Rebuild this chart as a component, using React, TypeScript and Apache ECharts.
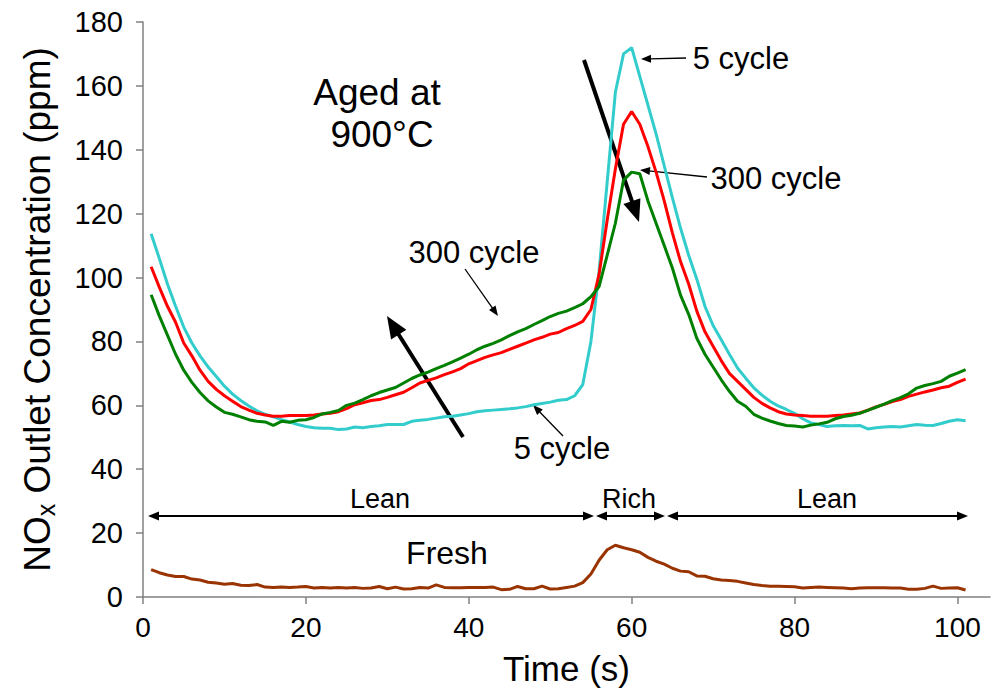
import React, { useEffect, useRef } from "react";
import * as echarts from "echarts";

const time = [1,2,3,4,5,6,7,8,9,10,11,12,13,14,15,16,17,18,19,20,21,22,23,24,25,26,27,28,29,30,31,32,33,34,35,36,37,38,39,40,41,42,43,44,45,46,47,48,49,50,51,52,53,54,55,56,57,58,59,60,61,62,63,64,65,66,67,68,69,70,71,72,73,74,75,76,77,78,79,80,81,82,83,84,85,86,87,88,89,90,91,92,93,94,95,96,97,98,99,100,101];

const cycle5 = [113.7,106,98,91,84.5,79.5,75.5,72,69,66,63.5,61.5,59.8,58.3,57.2,56.4,55.5,54.8,54,53.4,53,52.8,52.8,52.4,52.6,53.2,53,53.4,53.6,54,54,54,55,55.3,55.6,56,56.4,56.6,57,57.4,58,58.3,58.5,58.7,58.9,59.2,59.6,60.2,60.6,61,61.6,61.8,63,66.5,80,102,130,158,170,172,163,154,145,135,125,115.5,107,99.5,91,85,80.5,76,71.7,68.5,65.5,63.2,61.3,59.8,58.7,57.5,55.8,54.5,54,53.4,53.6,53.7,53.6,53.7,52.6,53,53.2,53.4,53.2,53.6,54,53.8,53.7,54.3,55,55.5,55.2];

const cycleMid = [103.4,97,91,86,79.5,75.5,71,67.5,65,63,61.3,59.6,58.5,57.5,57,56.6,56.6,56.8,56.8,56.8,57,57.3,57.5,58,59,60.2,60.8,61.5,61.8,62.5,63.3,64.1,65.5,67,67.8,68.6,69.6,70.5,71.5,73,74,75,75.8,76.5,77.5,78.5,79.5,80.5,81.3,82.3,82.8,84,85,86.3,90,101,118,134,148,152,148,141,133,124,114,105,98,89.5,83,78.5,74,70,67.5,65,62.5,60.6,59.2,58,57.3,57,56.8,56.6,56.6,56.6,56.8,57,57.3,57.6,58.5,59.5,60.3,61.2,61.8,62.8,63.5,64.2,64.8,65.5,66,67.2,68.2];

const cycle300 = [94.6,88,82,76,71,67.2,64,61.4,59.5,57.8,57.2,56.4,55.5,55,54.8,53.7,55,54.7,55.3,55.5,56.2,57.3,57.8,58.4,60,60.7,61.8,63,64,64.8,65.6,67,68.4,69.5,70.4,71.5,72.5,73.6,74.8,76,77.4,78.5,79.4,80.5,81.8,83,84,85.3,86.5,87.8,88.8,89.5,90.6,91.8,94,97.2,107,117,130.5,133,132.5,124,117,110,103,94.5,88.5,81,76,72,68,64.4,61.3,59.7,57.2,56,55.1,54.3,53.7,53.5,53.2,53.8,54.2,54.7,55.8,56.5,56.9,57.5,58.4,59.4,60.4,61.5,62.4,63.6,65.4,66.2,66.8,67.5,69.1,70.1,71.2];

const fresh = [8.6,7.6,6.9,6.4,6.4,5.6,5.3,4.6,4.4,4,4.2,3.7,3.6,3.9,3.1,3,3.1,3,3.1,3.3,2.8,3,2.8,3,2.8,3,2.7,2.8,3.3,2.6,3.1,2.5,2.6,3,2.8,3.8,3,2.9,2.9,3,3,3,3.1,2.3,2.4,3.3,2.6,2.6,3.4,2.5,2.6,3,3.4,4.5,7.2,11.5,14.8,16.2,15.4,14.8,14,12.4,11.2,10.3,9,8.1,7.9,6.6,6.5,5.7,5.3,5.2,4.9,4.4,3.9,3.6,3.4,3.4,3.3,3.2,2.8,3,3.1,3,2.9,2.8,2.6,2.8,2.9,2.9,2.9,2.8,2.8,2.4,2.4,2.7,3.4,2.7,2.8,2.9,2.2];

const xTicks = [0, 20, 40, 60, 80, 100];

const FONT = "Liberation Sans, Arial, sans-serif";

function arrow(x1: number, y1: number, x2: number, y2: number, lw: number, hl: number, hw: number, both = false) {
  const dx = x2 - x1, dy = y2 - y1;
  const L = Math.hypot(dx, dy);
  const ux = dx / L, uy = dy / L;
  const px = -uy, py = ux;
  const head = (tx: number, ty: number, dirx: number, diry: number) => {
    const bx = tx - dirx * hl, by = ty - diry * hl;
    return {
      type: "polygon",
      shape: { points: [[tx, ty], [bx + px * hw / 2, by + py * hw / 2], [bx - px * hw / 2, by - py * hw / 2]] },
      style: { fill: "#000" },
    };
  };
  const sx = both ? x1 + ux * (hl - 1) : x1;
  const sy = both ? y1 + uy * (hl - 1) : y1;
  const els: any[] = [
    { type: "line", shape: { x1: sx, y1: sy, x2: x2 - ux * (hl - 1), y2: y2 - uy * (hl - 1) }, style: { stroke: "#000", lineWidth: lw } },
    head(x2, y2, ux, uy),
  ];
  if (both) els.push(head(x1, y1, -ux, -uy));
  return els;
}

function txt(text: string, x: number, y: number, size: number) {
  return {
    type: "text",
    style: { text, x, y, fontSize: size, fontFamily: FONT, fill: "#000", align: "center", verticalAlign: "middle" },
  };
}

export default function App() {
  const ref = useRef<HTMLDivElement>(null);
  useEffect(() => {
    if (!ref.current) return;
    const chart = echarts.init(ref.current, null, { renderer: "svg" });
    const mk = (arr: number[]) => arr.map((v, i) => [time[i], v]);
    const axisColor = "#808080";
    chart.setOption({
      animation: false,
      backgroundColor: "#fff",
      grid: { left: 143, right: 1, top: 22, bottom: 93, containLabel: false },
      xAxis: {
        type: "value",
        min: 0,
        max: 104,
        interval: 20,
        name: "Time (s)",
        nameLocation: "middle",
        nameGap: 54,
        nameTextStyle: { fontSize: 35, fontFamily: FONT, color: "#000" },
        axisLine: { show: true, lineStyle: { color: axisColor, width: 1.5 } },
        axisTick: { show: true, length: 7, lineStyle: { color: axisColor, width: 1.5 }, customValues: xTicks },
        axisLabel: { fontSize: 28, fontFamily: FONT, color: "#000", margin: 16, customValues: xTicks },
        splitLine: { show: false },
      },
      yAxis: {
        type: "value",
        min: 0,
        max: 180,
        interval: 20,
        name: "{a|NO}{s|x}{a| Outlet Concentration (ppm)}",
        nameLocation: "middle",
        nameGap: 85,
        nameTextStyle: {
          fontFamily: FONT,
          color: "#000",
          rich: {
            a: { fontSize: 37, fontFamily: FONT, color: "#000", lineHeight: 42 },
            s: { fontSize: 25, fontFamily: FONT, color: "#000", lineHeight: 42, padding: [15, 0, 0, 0], verticalAlign: "bottom" },
          },
        },
        axisLine: { show: true, lineStyle: { color: axisColor, width: 1.5 } },
        axisTick: { show: true, length: 7, lineStyle: { color: axisColor, width: 1.5 } },
        axisLabel: { fontSize: 29, fontFamily: FONT, color: "#000", margin: 20 },
        splitLine: { show: false },
      },
      series: [
        { type: "line", name: "Fresh", data: mk(fresh), symbol: "none", lineStyle: { color: "#993300", width: 3 } },
        { type: "line", name: "5 cycle", data: mk(cycle5), symbol: "none", lineStyle: { color: "#33CCCC", width: 3 } },
        { type: "line", name: "Intermediate", data: mk(cycleMid), symbol: "none", lineStyle: { color: "#FF0000", width: 3 } },
        { type: "line", name: "300 cycle", data: mk(cycle300), symbol: "none", lineStyle: { color: "#008000", width: 3 } },
      ],
      graphic: [
        ...arrow(463, 437, 387, 316, 4, 22, 18),
        ...arrow(584, 60, 639, 222, 4, 22, 18),
        ...arrow(686, 58, 641, 59, 1.3, 10, 8),
        ...arrow(707, 177, 640, 170, 1.3, 10, 8),
        ...arrow(465, 269, 498, 316, 1.3, 10, 8),
        ...arrow(563, 436, 533, 405, 1.3, 10, 8),
        ...arrow(148, 516, 594, 516, 2, 11, 9, true),
        ...arrow(596, 516, 665, 516, 2, 11, 9, true),
        ...arrow(667, 516, 968, 516, 2, 11, 9, true),
        txt("Aged at", 377, 92, 37),
        txt("900°C", 382, 134, 37),
        txt("5 cycle", 741, 58, 31),
        txt("300 cycle", 776, 178, 31),
        txt("300 cycle", 474, 252, 31),
        txt("5 cycle", 562, 448, 31),
        txt("Fresh", 447, 553, 32),
        txt("Lean", 380, 499, 27),
        txt("Rich", 629, 499, 27),
        txt("Lean", 827, 499, 27),
      ],
    });
    return () => chart.dispose();
  }, []);
  return <div ref={ref} style={{ position: "fixed", left: 0, top: 0, width: 991, height: 691, background: "#fff" }} />;
}
